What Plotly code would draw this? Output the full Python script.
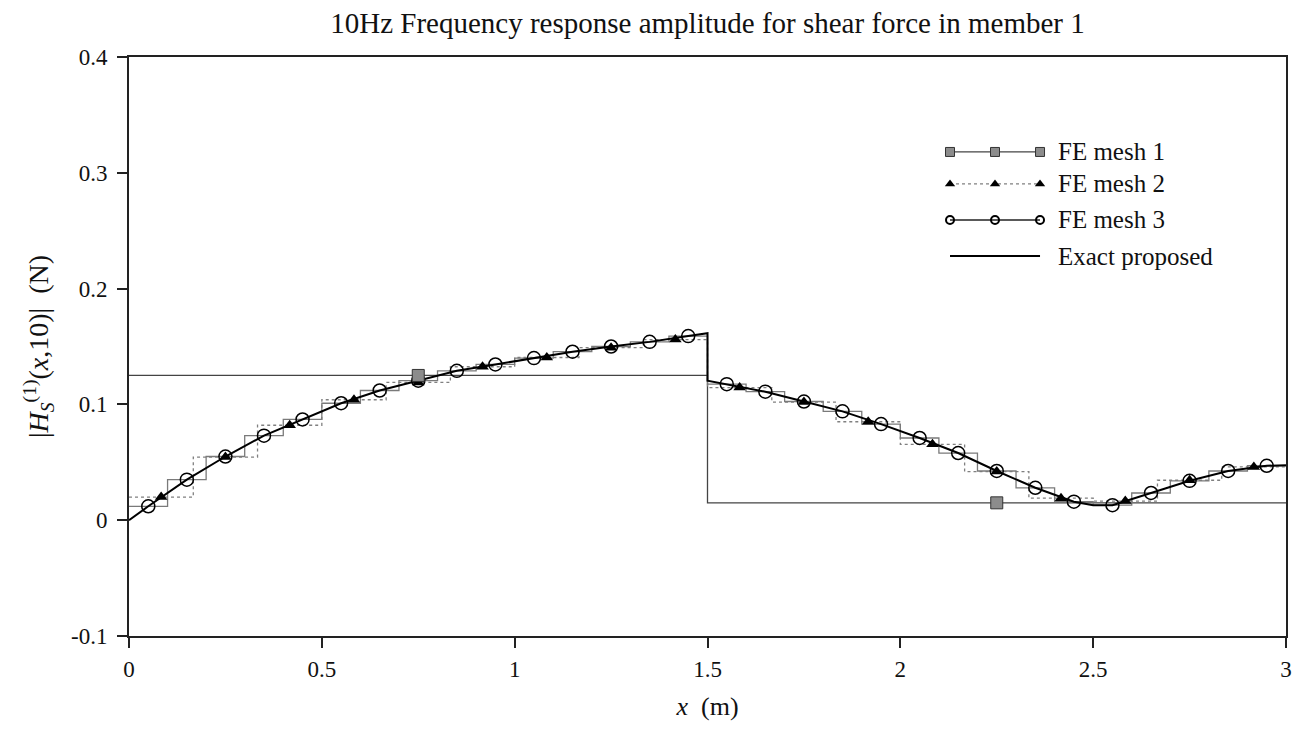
import plotly.graph_objects as go

# ---------------- data ----------------
# FE mesh 1: 2 elements, constant shear per element
mesh1_edges = [0.0, 1.5, 3.0]
mesh1_values = [0.125, 0.015]

# FE mesh 2: 18 elements
mesh2_edges = [0.0, 0.1667, 0.3333, 0.5, 0.6667, 0.8333, 1.0, 1.1667, 1.3333, 1.5,
               1.6667, 1.8333, 2.0, 2.1667, 2.3333, 2.5, 2.6667, 2.8333, 3.0]
mesh2_values = [0.020, 0.0545, 0.082, 0.104, 0.119, 0.1325, 0.1405, 0.149, 0.156,
                0.1145, 0.102, 0.085, 0.0655, 0.042, 0.019, 0.0165, 0.0345, 0.046]

# FE mesh 3: 30 elements
mesh3_edges = [0.0, 0.1, 0.2, 0.3, 0.4, 0.5, 0.6, 0.7, 0.8, 0.9, 1.0, 1.1, 1.2, 1.3, 1.4, 1.5,
               1.6, 1.7, 1.8, 1.9, 2.0, 2.1, 2.2, 2.3, 2.4, 2.5, 2.6, 2.7, 2.8, 2.9, 3.0]
mesh3_values = [0.012, 0.035, 0.055, 0.073, 0.087, 0.101, 0.112, 0.1205, 0.129, 0.1345,
                0.140, 0.1455, 0.150, 0.154, 0.159,
                0.1175, 0.111, 0.1025, 0.094, 0.083, 0.071, 0.058, 0.0425, 0.028, 0.016,
                0.013, 0.0235, 0.034, 0.0425, 0.047]

# Exact proposed solution (jump at x = 1.5)
exact_x = [0.0, 0.05, 0.15, 0.25, 0.35, 0.45, 0.55, 0.65, 0.75, 0.85, 0.95, 1.05, 1.15, 1.25,
           1.35, 1.45, 1.5, 1.5, 1.55, 1.65, 1.75, 1.85, 1.95, 2.05, 2.15, 2.25, 2.35, 2.45,
           2.5, 2.55, 2.65, 2.75, 2.85, 2.95, 3.0]
exact_y = [0.0, 0.012, 0.035, 0.055, 0.073, 0.087, 0.101, 0.112, 0.1205, 0.129, 0.1345, 0.140,
           0.1455, 0.150, 0.154, 0.159, 0.1615, 0.1205, 0.1175, 0.111, 0.1025, 0.094, 0.083,
           0.071, 0.058, 0.0425, 0.028, 0.016, 0.013, 0.013, 0.0235, 0.034, 0.0425, 0.047, 0.0475]

x_ticks = [0, 0.5, 1, 1.5, 2, 2.5, 3]
x_ticktext = ["0", "0.5", "1", "1.5", "2", "2.5", "3"]
y_ticks = [-0.1, 0, 0.1, 0.2, 0.3, 0.4]
y_ticktext = ["-0.1", "0", "0.1", "0.2", "0.3", "0.4"]

legend_labels = ["FE mesh 1", "FE mesh 2", "FE mesh 3", "Exact proposed"]

FONT = "Liberation Serif, Times New Roman, serif"


def step_xy(edges, values):
    return list(edges), list(values) + [values[-1]]


def mids(edges):
    return [(a + b) / 2 for a, b in zip(edges[:-1], edges[1:])]


fig = go.Figure()

# step lines
sx, sy = step_xy(mesh1_edges, mesh1_values)
fig.add_trace(go.Scatter(x=sx, y=sy, mode="lines", line=dict(shape="hv", color="#444", width=1.3),
                         hoverinfo="skip", showlegend=False))
sx, sy = step_xy(mesh2_edges, mesh2_values)
fig.add_trace(go.Scatter(x=sx, y=sy, mode="lines",
                         line=dict(shape="hv", color="#808080", width=1.3, dash="dot"),
                         hoverinfo="skip", showlegend=False))
sx, sy = step_xy(mesh3_edges, mesh3_values)
fig.add_trace(go.Scatter(x=sx, y=sy, mode="lines", line=dict(shape="hv", color="#7a7a7a", width=1.3),
                         hoverinfo="skip", showlegend=False))

# exact curve
fig.add_trace(go.Scatter(x=exact_x, y=exact_y, mode="lines", line=dict(color="black", width=2),
                         name="Exact proposed", showlegend=False))

# markers at element midpoints
fig.add_trace(go.Scatter(x=mids(mesh3_edges), y=mesh3_values, mode="markers",
                         marker=dict(symbol="circle-open", size=13, color="black", line=dict(width=1.5)),
                         name="FE mesh 3", showlegend=False))
fig.add_trace(go.Scatter(x=mids(mesh2_edges), y=mesh2_values, mode="markers",
                         marker=dict(symbol="triangle-up", size=11, color="black"),
                         name="FE mesh 2", showlegend=False))
fig.add_trace(go.Scatter(x=mids(mesh1_edges), y=mesh1_values, mode="markers",
                         marker=dict(symbol="square", size=12, color="#8c8c8c",
                                     line=dict(color="#333", width=1)),
                         name="FE mesh 1", showlegend=False))

# ---------------- custom legend (paper fractions, drawn on an overlay axis) ----------------
leg_x = [0.7096, 0.7485, 0.7874]
leg_text_x = 0.8012
leg_rows = [0.836, 0.7807, 0.7185, 0.6563]
leg_styles = [
    dict(line=dict(color="#444", width=1.3),
         marker=dict(symbol="square", size=9, color="#8c8c8c", line=dict(color="#333", width=1))),
    dict(line=dict(color="#808080", width=1.3, dash="dot"),
         marker=dict(symbol="triangle-up", size=9, color="black")),
    dict(line=dict(color="#222", width=1.3),
         marker=dict(symbol="circle-open", size=8, color="black", line=dict(width=2))),
    dict(line=dict(color="black", width=2), marker=None),
]
for row_y, style in zip(leg_rows, leg_styles):
    mode = "lines+markers" if style["marker"] else "lines"
    kw = dict(marker=style["marker"]) if style["marker"] else {}
    fig.add_trace(go.Scatter(x=leg_x, y=[row_y] * 3, mode=mode, line=style["line"],
                             xaxis="x2", yaxis="y2", hoverinfo="skip", showlegend=False, **kw))

annotations = []
for row_y, label in zip(leg_rows, legend_labels):
    annotations.append(dict(x=leg_text_x, y=row_y, xref="paper", yref="paper", text=label,
                            showarrow=False, xanchor="left", yanchor="middle",
                            font=dict(family=FONT, size=25, color="#111")))

axis_common = dict(showline=True, linecolor="#222", linewidth=2, mirror=True, ticks="outside",
                   ticklen=10, tickwidth=2, tickcolor="#222", showgrid=False, zeroline=False,
                   tickfont=dict(family=FONT, size=23, color="#111"))

fig.update_layout(
    width=1306, height=738,
    margin=dict(l=129, r=20, t=57, b=102),
    paper_bgcolor="white", plot_bgcolor="white",
    font=dict(family=FONT, color="#111"),
    title=dict(text="10Hz Frequency response amplitude for shear force in member 1",
               x=0.5, xref="paper", xanchor="center", y=1 - 22.5 / 738, yref="container",
               yanchor="middle", font=dict(family=FONT, size=29, color="#111")),
    xaxis=dict(range=[0, 3], tickvals=x_ticks, ticktext=x_ticktext,
               title=dict(text="<i>x</i>  (m)", font=dict(family=FONT, size=26, color="#111"),
                          standoff=16),
               ticklabelstandoff=1, **axis_common),
    yaxis=dict(range=[-0.1, 0.4], tickvals=y_ticks, ticktext=y_ticktext,
               title=dict(text="|<i>H</i><sub><i>S</i></sub><sup>(1)</sup>(<i>x</i>,10)|  (N)",
                          font=dict(family=FONT, size=28, color="#111"), standoff=14),
               ticklabelstandoff=5, **axis_common),
    xaxis2=dict(overlaying="x", range=[0, 1], visible=False, fixedrange=True, anchor="y2"),
    yaxis2=dict(overlaying="y", range=[0, 1], visible=False, fixedrange=True, anchor="x2"),
    annotations=annotations,
    showlegend=False,
)

fig.write_html("out.html")
